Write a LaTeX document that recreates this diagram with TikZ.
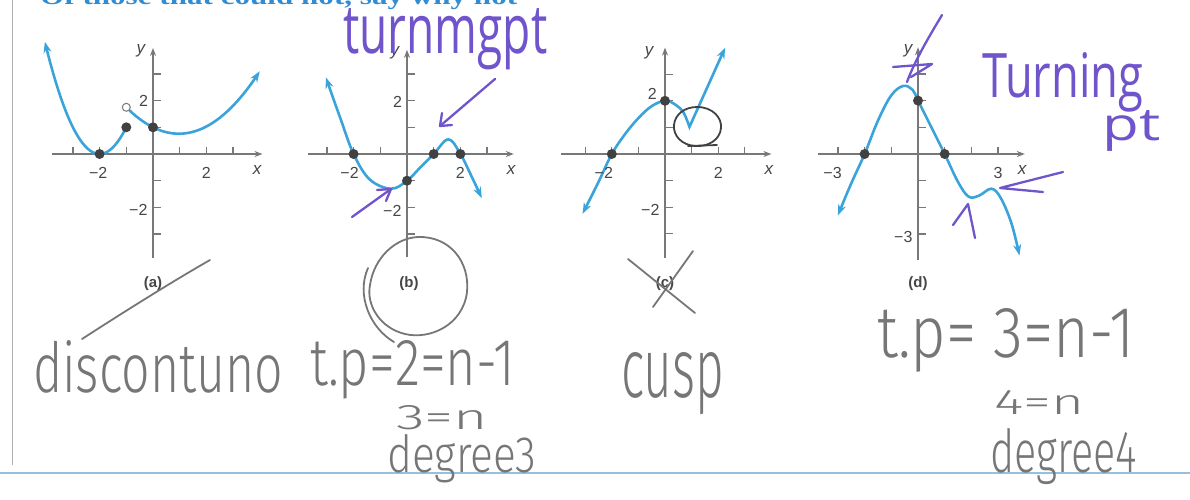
\documentclass[tikz,border=0pt]{standalone}
\usepackage{fontspec}
\setmainfont{Liberation Sans}
\newfontfamily\hand{Fira Sans}[UprightFont={* Light}]
\newfontfamily\marker{Open Sans}
\newfontfamily\titlefont{Liberation Serif}
\usetikzlibrary{arrows.meta}
\definecolor{curveblue}{RGB}{58,163,218}
\definecolor{axisgray}{RGB}{120,120,120}
\definecolor{dotgray}{RGB}{65,65,65}
\definecolor{labgray}{RGB}{70,70,70}
\definecolor{penpurple}{RGB}{112,84,204}
\definecolor{pencil}{RGB}{118,118,118}
\definecolor{titleblue}{RGB}{50,140,210}
\definecolor{rulegray}{RGB}{175,175,175}
\definecolor{ruleblue}{RGB}{150,192,222}
\newcommand\hw[3]{\resizebox{#1pt}{#2pt}{#3}}
\newcommand\graphaxes[4]{%
  \draw[axisarrow] (#1,0) -- (#2,0);
  \draw[axisarrow] (0,#3) -- (0,#4);
  \foreach \k in {-3,-2,-1,1,2,3}{\draw[axis] (\k,0) -- (\k,0.26); \draw[axis] (0,\k) -- (0.3,\k);}%
}
\begin{document}
\begin{tikzpicture}[x=1pt,y=-1pt,
  axis/.style={draw=axisgray, line width=1.3pt},
  axisarrow/.style={axis, -{Stealth[length=8pt,width=6pt]}},
  curve/.style={draw=curveblue, line width=2.6pt, line cap=round, line join=miter},
  ctip/.style={curve, {Stealth[length=11pt,width=8pt]}-{Stealth[length=11pt,width=8pt]}},
  dot/.style={circle, fill=dotgray, inner sep=0, minimum size=10pt},
  odot/.style={circle, draw=axisgray, fill=white, line width=1pt, inner sep=0, minimum size=8pt},
  ticklab/.style={font=\fontsize{16}{16}\selectfont, text=labgray, inner sep=0},
  varlab/.style={font=\fontsize{17}{17}\selectfont\itshape, text=labgray, inner sep=0},
  caption/.style={font=\fontsize{15}{15}\selectfont\bfseries, text=labgray, inner sep=0},
  pen/.style={draw=penpurple, line width=2.3pt, line cap=round, line join=round},
  pencilline/.style={draw=pencil, line width=1.8pt, line cap=round, line join=round},
  handtext/.style={anchor=base west, inner sep=0, font=\hand},
  markertext/.style={anchor=base west, inner sep=0, font=\marker},
]
\useasboundingbox (0,0) rectangle (1190,499);
\clip (0,0) rectangle (1190,499);

% page rules and title
\draw[rulegray, line width=0.8pt] (12,0) -- (12,465);
\draw[ruleblue, line width=1.1pt] (0,473) -- (1190,473);
\node[anchor=base west, inner sep=0, text=titleblue] (title) at (40,4)
  {\hw{477}{17}{\titlefont\bfseries Of those that could not, say why not}};

% ---------------- graph (a)
\begin{scope}[shift={(153,154)}, x=26.7pt, y=26.7pt]
  \graphaxes{-3.8}{4.1}{-3.9}{3.97}
  \draw[curve, {Stealth[length=11pt,width=8pt]}-] plot[domain=-4.05:-1, samples=40] (\x, {(\x+2)^2});
  \draw[curve, -{Stealth[length=11pt,width=8pt]}] plot[domain=-0.88:4, samples=40] (\x, {0.255*\x*\x-0.495*\x+1});
  \node[odot] (a-open) at (-1,1.75) {};
  \node[dot] (a-d1) at (-2,0) {};
  \node[dot] (a-d2) at (-1,1) {};
  \node[dot] (a-d3) at (0,1) {};
  \node[ticklab] (a-xm2) at (-2.05,-0.72) {−2};
  \node[ticklab] (a-x2) at (2,-0.72) {2};
  \node[varlab] (a-x) at (3.9,-0.6) {x};
  \node[varlab] (a-y) at (-0.45,3.88) {y};
  \node[ticklab, anchor=east] (a-y2) at (-0.18,1.98) {2};
  \node[ticklab, anchor=east] (a-ym2) at (-0.2,-2.08) {−2};
\end{scope}
\node[caption] (cap-a) at (153,284) {(a)};

% ---------------- graph (b)
\begin{scope}[shift={(407,154)}, x=26.7pt, y=26.7pt]
  \graphaxes{-3.7}{4.0}{-3.85}{3.9}
  \draw[ctip] plot[smooth, tension=0.6] coordinates {(-3.04,2.87) (-2.5,1.35) (-2,0) (-1.4,-0.95) (-0.6,-1.3) (0,-1) (0.5,-0.5) (1,0) (1.55,0.55) (2,0) (2.4,-0.8) (2.8,-1.65)};
  \node[dot] (b-d1) at (-2,0) {};
  \node[dot] (b-d2) at (0,-1) {};
  \node[dot] (b-d3) at (1,0) {};
  \node[dot] (b-d4) at (2,0) {};
  \node[ticklab] (b-xm2) at (-2.15,-0.72) {−2};
  \node[ticklab] (b-x2) at (2,-0.72) {2};
  \node[varlab] (b-x) at (3.9,-0.6) {x};
  \node[varlab] (b-y) at (-0.45,3.8) {y};
  \node[ticklab, anchor=east] (b-y2) at (-0.18,1.95) {2};
  \node[ticklab, anchor=east] (b-ym2) at (-0.2,-2.12) {−2};
\end{scope}
\node[caption] (cap-b) at (409,284) {(b)};

% ---------------- graph (c)
\begin{scope}[shift={(665,154)}, x=26.6pt, y=26.6pt]
  \graphaxes{-3.9}{4.0}{-3.9}{4.0}
  \draw[ctip] plot[smooth, tension=0.6] coordinates {(-3.1,-2.25) (-2.5,-1.05) (-2,0) (-1.5,0.75) (-1,1.35) (-0.5,1.8) (0,2) (0.4,1.85) (0.7,1.55) (0.92,1.02)} -- (2.26,4.0);
  \node[dot] (c-d1) at (-2,0) {};
  \node[dot] (c-d2) at (0,2) {};
  \node[ticklab] (c-xm2) at (-2.3,-0.72) {−2};
  \node[ticklab] (c-x2) at (2,-0.72) {2};
  \node[varlab] (c-x) at (3.9,-0.6) {x};
  \node[varlab] (c-y) at (-0.6,3.8) {y};
  \node[ticklab, anchor=east] (c-y2) at (-0.3,2.25) {2};
  \node[ticklab, anchor=east] (c-ym2) at (-0.2,-2.1) {−2};
\end{scope}
\node[caption] (cap-c) at (665,284) {(c)};

% ---------------- graph (d)
\begin{scope}[shift={(918,154)}, x=26.7pt, y=26.7pt]
  \graphaxes{-3.75}{4.0}{-3.97}{4.0}
  \draw[ctip] plot[smooth, tension=0.6] coordinates {(-3,-2.3) (-2.5,-1.1) (-2,0) (-1.5,1.25) (-1,2.2) (-0.55,2.55) (-0.2,2.4) (0,2) (0.5,1.0) (1,0) (1.5,-1.05) (1.9,-1.6) (2.3,-1.55) (2.75,-1.3) (3.1,-1.65) (3.5,-2.6) (3.8,-3.8)};
  \node[dot] (d-d1) at (-2,0) {};
  \node[dot] (d-d2) at (0,2) {};
  \node[dot] (d-d3) at (1,0) {};
  \node[ticklab] (d-xm3) at (-3.2,-0.72) {−3};
  \node[ticklab] (d-x3) at (3,-0.72) {3};
  \node[varlab] (d-x) at (3.9,-0.6) {x};
  \node[varlab] (d-y) at (-0.37,3.88) {y};
  \node[ticklab, anchor=east] (d-ym3) at (-0.2,-3.12) {−3};
\end{scope}
\node[caption] (cap-d) at (918,284) {(d)};

% ---------------- pencil (gray) annotations
\draw[pencilline] (82,339) .. controls (130,308) and (175,280) .. (210,260);
\draw[pencilline] (418,237) .. controls (450,236) and (470,262) .. (467,292)
   .. controls (463,325) and (430,340) .. (405,334)
   .. controls (380,328) and (366,305) .. (370,285)
   .. controls (374,258) and (395,238) .. (418,237);
\draw[pencilline] (368,268) .. controls (356,295) and (370,328) .. (394,342);
\draw[pencilline] (628,259) -- (695,313);
\draw[pencilline] (693,251) -- (653,307);
\draw[pencilline, draw=dotgray] (697,107) .. controls (713,107) and (722,118) .. (721,128)
   .. controls (720,140) and (708,147) .. (695,146)
   .. controls (682,145) and (673,136) .. (674,125)
   .. controls (675,114) and (685,107) .. (697,107);
\draw[pencilline, draw=dotgray] (688,146) -- (717,145);

\node[handtext, text=pencil] (t-disc) at (33,392) {\hw{250}{52}{discontuno}};
\node[handtext, text=pencil] (t-tpb) at (310,385) {\hw{205}{45}{t.p=2=n-1}};
\node[handtext, text=pencil] (t-nb) at (396,429) {\hw{92}{24}{3=n}};
\node[handtext, text=pencil] (t-degb) at (387,472) {\hw{149}{38}{degree3}};
\node[handtext, text=pencil] (t-cusp) at (621,397) {\hw{103}{45}{cusp}};
\node[handtext, text=pencil] (t-tpd) at (877,357) {\hw{258}{49}{t.p= 3=n-1}};
\node[handtext, text=pencil] (t-nd) at (994,414) {\hw{90}{24}{4=n}};
\node[handtext, text=pencil] (t-degd) at (990,472) {\hw{147}{44}{degree4}};

% ---------------- purple annotations
\node[markertext, text=penpurple] (t-turn1) at (343,53) {\hw{204}{45}{turnmgpt}};
\node[markertext, text=penpurple] (t-turn2) at (982,97) {\hw{161}{45}{Turning}};
\node[markertext, text=penpurple] (t-pt) at (1102,140) {\hw{58}{30}{pt}};

\coordinate (pb1s) at (495,79);  \coordinate (pb1e) at (440,126);
\draw[pen] (pb1s) -- (pb1e);
\draw[pen] (442,113) -- (pb1e) -- (452,125);
\coordinate (pb2s) at (352,217); \coordinate (pb2e) at (391,189);
\draw[pen] (pb2s) -- (pb2e);
\draw[pen] (377,190) -- (pb2e) -- (386,201);

\coordinate (pd1t) at (1000,188);
\draw[pen] (1063,172) -- (pd1t) -- (1043,192);
\coordinate (pd2t) at (968,204);
\draw[pen] (953,225) -- (pd2t) -- (975,238);
\draw[pen] (942,15) .. controls (930,35) and (915,60) .. (907,82);
\draw[pen] (893,67) -- (932,64) -- (911,77);
\end{tikzpicture}
\end{document}
